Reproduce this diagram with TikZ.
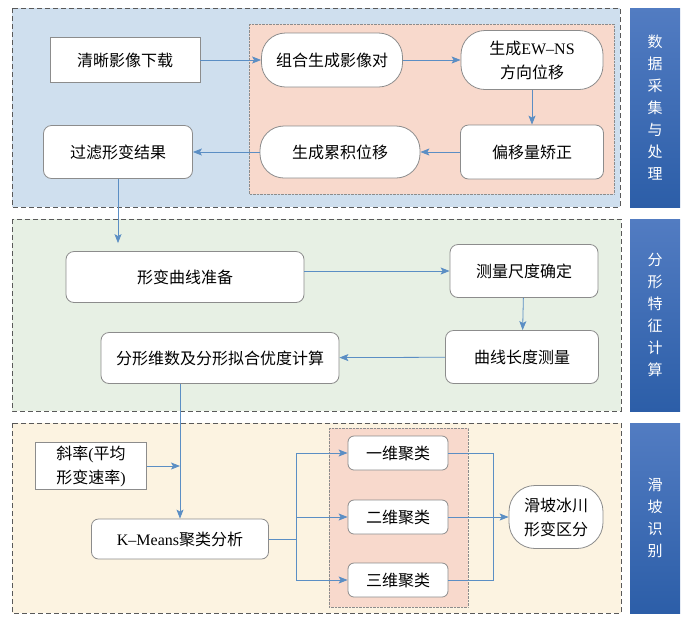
\documentclass[tikz,border=0pt]{standalone}
\usepackage{fontspec}
\setmainfont{Liberation Serif}
\newfontfamily\cjk{Noto Sans CJK SC}
\usepackage{tikz}
\usetikzlibrary{arrows.meta,backgrounds}
\usepackage{xcolor}
\definecolor{boxgray}{RGB}{140,140,140}
\definecolor{flow}{RGB}{91,142,196}
\definecolor{secblue}{RGB}{207,223,238}
\definecolor{secgreen}{RGB}{231,240,228}
\definecolor{secyellow}{RGB}{252,243,225}
\definecolor{secpink}{RGB}{248,217,204}
\definecolor{bartop}{RGB}{82,124,194}
\definecolor{barbot}{RGB}{44,94,168}

\begin{document}
\begin{tikzpicture}[x=1pt,y=-1pt]
\tikzstyle{plain} = [rectangle, draw=boxgray, thick, fill=white, inner sep=0pt,
align=center, font=\cjk\fontsize{16}{24}\selectfont]
\tikzstyle{soft} = [plain, rounded corners=8pt]
\tikzstyle{pill} = [plain, rounded corners=24pt]
\tikzstyle{section} = [draw=black!65, thick, dash pattern=on 5pt off 3pt]
\tikzstyle{group} = [draw=black!45, densely dotted]
\tikzstyle{bar} = [top color=bartop, bottom color=barbot, draw=none]
\tikzstyle{bartext} = [text=white, align=center, font=\cjk\fontsize{15}{22}\selectfont]
\tikzstyle{line} = [draw, flow, thick, -{Stealth[length=9pt,width=7pt,inset=2pt]}];
\useasboundingbox (0,0) rectangle (691,625);

% backgrounds
\fill[secblue] (12,8) rectangle (620,207);
\draw[section] (12,8) rectangle (620,207);
\fill[secpink] (249,24) rectangle (614,194);
\draw[group] (249,24) rectangle (614,194);
\fill[secgreen] (12,219) rectangle (621,411);
\draw[section] (12,219) rectangle (621,411);
\fill[secyellow] (12,423) rectangle (621,613);
\draw[section] (12,423) rectangle (621,613);
\fill[secpink] (329,428) rectangle (468,607);
\draw[group] (329,428) rectangle (468,607);

% side bars
\node[bar, minimum width=50pt, minimum height=199pt] (bar1) at (655,107.5) {};
\node[bartext] at (bar1) {数\\据\\采\\集\\与\\处\\理};
\node[bar, minimum width=50pt, minimum height=192pt] (bar2) at (655,315) {};
\node[bartext] at (bar2) {分\\形\\特\\征\\计\\算};
\node[bar, minimum width=50pt, minimum height=190pt] (bar3) at (655,518) {};
\node[bartext] at (bar3) {滑\\坡\\识\\别};

% row 1
\node[plain, minimum width=150pt, minimum height=45pt] (download) at (125,60) {清晰影像下载};
\node[pill, minimum width=141pt, minimum height=54pt] (pair) at (332,60) {组合生成影像对};
\node[pill, minimum width=142pt, minimum height=59pt] (ewns) at (532,60) {生成{\rmfamily EW–NS}\\方向位移};
% row 2
\node[soft, minimum width=149pt, minimum height=53pt] (filter) at (118,152) {过滤形变结果};
\node[pill, minimum width=160pt, minimum height=52pt] (cumul) at (340,152) {生成累积位移};
\node[soft, minimum width=143pt, minimum height=54pt] (correct) at (532,152) {偏移量矫正};
% row 3
\node[soft, minimum width=238pt, minimum height=51pt] (prep) at (185,277) {形变曲线准备};
\node[soft, minimum width=148pt, minimum height=53pt] (scale) at (524,271) {测量尺度确定};
% row 4
\node[soft, minimum width=238pt, minimum height=51pt] (fractal) at (220,358) {分形维数及分形拟合优度计算};
\node[soft, minimum width=153pt, minimum height=53pt] (length) at (522,357) {曲线长度测量};
% row 5
\node[plain, minimum width=111pt, minimum height=47pt] (slope) at (91,466) {斜率{\rmfamily(}平均\\形变速率{\rmfamily)}};
\node[soft, minimum width=177pt, minimum height=40pt, rounded corners=7pt] (kmeans) at (180,539) {{\rmfamily K–Means}聚类分析};
\node[soft, minimum width=100pt, minimum height=34pt, rounded corners=6pt] (one) at (398,453) {一维聚类};
\node[soft, minimum width=100pt, minimum height=34pt, rounded corners=6pt] (two) at (398,517) {二维聚类};
\node[soft, minimum width=100pt, minimum height=34pt, rounded corners=6pt] (three) at (398,580) {三维聚类};
\node[pill, minimum width=94pt, minimum height=63pt, rounded corners=26pt] (glacier) at (556,517) {滑坡冰川\\形变区分};

\coordinate (split) at (296,539);
\coordinate (merge) at (493,517);

\tikzstyle{every path}=[line]
\path (download) -- (pair);
\path (pair) -- (ewns);
\path (ewns) -- (correct);
\path (correct) -- (cumul);
\path (cumul) -- (filter);
\path[shorten >=8pt] (filter.south) -- (filter.south |- prep.north);
\path (prep.east |- scale) -- (scale);
\path (scale) -- (length);
\path (length) -- (fractal);
\path (kmeans.north |- fractal.south) -- (kmeans.north);
\path (slope) -- (kmeans.north |- slope);
\path[-] (kmeans) -- (split);
\path (split) |- (one);
\path (split) |- (two);
\path (split) |- (three);
\path[-] (one) -| (merge);
\path[-] (three) -| (merge);
\path (two) -- (glacier);

\end{tikzpicture}
\end{document}
